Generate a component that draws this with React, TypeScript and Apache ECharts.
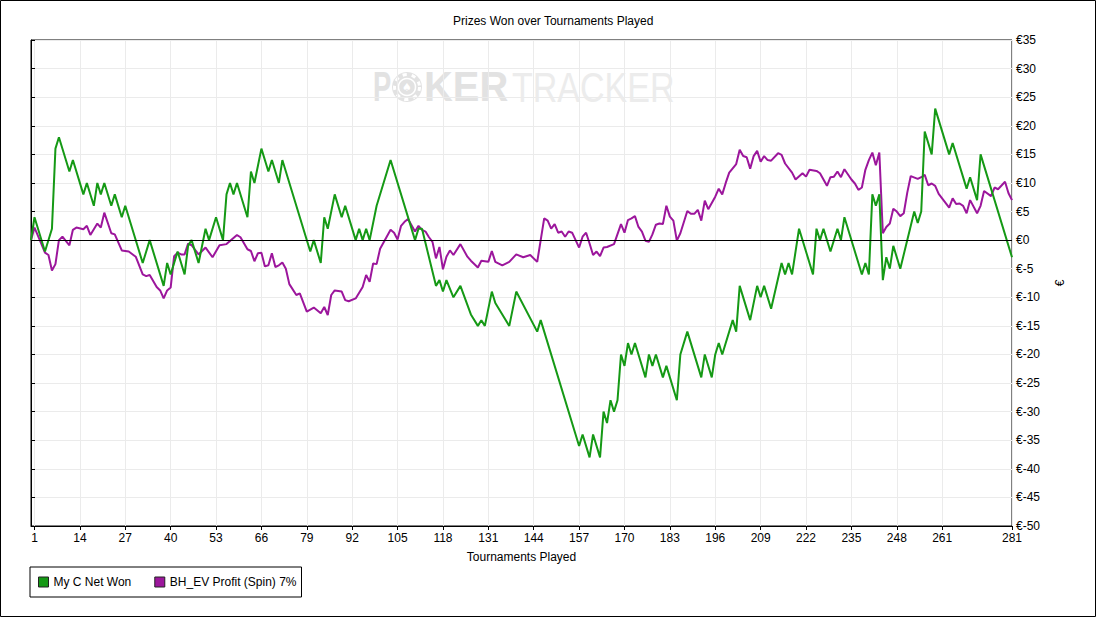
import React, { useEffect, useRef } from "react";
import * as echarts from "echarts";

const TITLE = "Prizes Won over Tournaments Played";
const X_NAME = "Tournaments Played";
const Y_NAME = "€";
const SERIES_GREEN = "My C Net Won";
const SERIES_PURPLE = "BH_EV Profit (Spin) 7%";

const xTickValues = [1, 14, 27, 40, 53, 66, 79, 92, 105, 118, 131, 144, 157, 170, 183, 196, 209, 222, 235, 248, 261, 281];

// [tournament, €]
const netWon: [number, number][] = [
  [0, 0], [1, 4], [4, -2], [6, 2], [7, 16], [8, 18], [11, 12], [12, 14], [15, 8], [16, 10], [18, 6], [19, 10], [20, 8],
  [21, 10], [23, 6], [24, 8], [26, 4], [27, 6], [32, -4], [34, 0], [38, -8], [39, -4], [40, -6], [42, -2], [44, -6],
  [45, -1], [46, 0], [48, -4], [50, 2], [51, 0], [53, 4], [55, 0], [56, 8], [57, 10], [58, 8], [59, 10], [62, 4],
  [63, 12], [64, 10], [66, 16], [68, 12], [69, 14], [71, 10], [72, 14], [80, -2], [81, 0], [83, -4], [84, 4], [85, 2],
  [87, 8], [89, 4], [90, 6], [93, 0], [94, 2], [95, 0], [96, 2], [97, 0], [99, 6], [103, 14], [110, 0], [111, 2],
  [112, 2], [116, -8], [117, -7], [118, -9], [119, -7], [121, -10], [123, -8], [126, -13], [128, -15], [129, -14],
  [130, -15], [132, -9], [133, -11], [137, -15], [139, -9], [145, -16], [146, -14], [157, -36], [158, -34], [160, -38],
  [161, -34], [163, -38], [164, -30], [165, -32], [166, -28], [167, -30], [168, -28], [169, -20], [170, -22], [171, -18],
  [172, -20], [173, -18], [176, -24], [177, -20], [178, -22], [179, -20], [181, -24], [182, -22], [185, -28], [186, -20],
  [188, -16], [192, -24], [193, -20], [195, -24], [196, -20], [197, -18], [198, -20], [201, -14], [202, -16], [203, -8],
  [206, -14], [208, -8], [209, -10], [210, -8], [212, -12], [215, -4], [216, -6], [217, -4], [218, -6], [220, 2],
  [224, -6], [225, 2], [226, 0], [227, 2], [229, -2], [231, 2], [232, 0], [233, 4], [238, -6], [239, -4], [240, -6],
  [241, 8], [242, 6], [243, 8], [244, -7], [245, -3], [246, -5], [247, -1], [249, -5], [253, 5], [254, 3], [255, 5],
  [256, 19], [258, 15], [259, 23], [263, 15], [264, 17], [268, 9], [269, 11], [271, 7], [272, 15], [281, -3],
];

const evProfit: [number, number][] = [
  [0, 0], [1, 2.2], [3, -0.7], [4, -2.2], [5, -2.6], [6, -5.3], [7, -4.2], [8, 0], [9, 0.6], [11, -0.9], [12, 1.8],
  [13, 2.2], [15, 1.9], [16, 2.5], [17, 0.9], [19, 2.9], [20, 2.2], [21, 4.8], [23, 1.2], [24, 1], [26, -1.8], [28, -2],
  [30, -2.9], [32, -6], [33, -6.3], [34, -6.1], [36, -8.2], [37, -8.8], [38, -10.2], [39, -8.8], [40, -8.3], [41, -2.8],
  [42, -2.2], [43, -2.5], [44, -2.5], [45, -0.6], [46, -0.9], [48, -2.5], [50, -1.3], [52, -3], [54, -0.9], [56, -0.7],
  [59, 0.9], [60, 0.5], [62, -1.6], [63, -1.9], [64, -3.7], [65, -2.3], [66, -2.2], [67, -4.6], [68, -4.4], [69, -2.3],
  [70, -4.7], [71, -4.4], [72, -3.9], [73, -5], [74, -7.7], [76, -9.6], [77, -9.3], [79, -12.5], [81, -11.8], [83, -12.8],
  [84, -11.7], [85, -13.1], [86, -9.6], [87, -8.8], [89, -9], [90, -10.5], [91, -10.7], [93, -10.2], [95, -8.2], [96, -6.1],
  [97, -7.3], [98, -4.1], [99, -4.2], [100, -1.5], [103, 1.8], [104, 1.3], [105, 0.1], [106, 2.5], [107, 3.2], [108, 3.7],
  [110, 1.5], [111, 2.5], [112, 1.8], [113, 1.5], [114, 0.5], [115, -0.3], [116, -3.2], [117, -1.2], [118, -5.1],
  [119, -2.9], [120, -1.8], [121, -2.6], [123, -0.7], [125, -2.9], [126, -3.6], [128, -4.8], [129, -3.6], [131, -3.8],
  [132, -1.9], [133, -3.8], [135, -4.4], [137, -3.8], [139, -2.5], [141, -3], [143, -2.6], [145, -3.8], [147, 3.8],
  [148, 3.4], [149, 2], [150, 2.8], [151, 1.3], [152, 1.5], [153, 0.6], [154, 1.5], [155, 1.3], [157, -1.3], [158, 0.6],
  [159, 1.3], [160, -0.6], [161, -2.6], [162, -2], [163, -2.8], [164, -1.3], [165, -1.2], [167, -0.7], [169, 2.8],
  [170, 1.3], [171, 3.5], [172, 3.8], [173, 4.2], [174, 2.3], [175, 1.5], [176, -0.1], [177, -0.3], [178, 1], [179, 2.7],
  [180, 2.9], [181, 2.8], [182, 6], [183, 4.1], [184, 3.4], [185, -0.1], [186, 1.2], [188, 5.1], [189, 4.6], [190, 4.6],
  [191, 5.3], [192, 3.4], [193, 6.9], [194, 5.4], [196, 7.6], [197, 9], [198, 8], [199, 10], [200, 11.8], [202, 13.3],
  [203, 15.8], [204, 14.7], [205, 14.5], [206, 12.5], [207, 14.7], [208, 15.6], [209, 13.7], [210, 14.7], [211, 14],
  [212, 13.9], [214, 15.2], [215, 14.9], [216, 13.4], [218, 11.8], [219, 10.6], [221, 11.7], [222, 11.1], [223, 12.3],
  [225, 12.1], [226, 11.7], [228, 9.5], [229, 11], [230, 11.1], [231, 12], [232, 11], [233, 12.4], [235, 10.6], [236, 9.9],
  [237, 8.8], [238, 9.2], [239, 12.3], [240, 14], [241, 15.3], [242, 13.1], [243, 15.3], [244, 1.2], [245, 2.3], [246, 2.9],
  [247, 5.5], [248, 5], [249, 4.2], [250, 4.7], [251, 8.3], [252, 11.2], [254, 10.7], [255, 11], [256, 11.4], [257, 9.6],
  [258, 9.9], [259, 9.5], [260, 8.1], [263, 5.7], [264, 7.3], [265, 6.3], [266, 6.4], [267, 6], [268, 4.7], [269, 7],
  [271, 4.7], [272, 6], [273, 8.6], [275, 7.7], [276, 9.2], [277, 8.9], [279, 10.2], [280, 8.2], [281, 7],
];

const GREEN = "#159915";
const PURPLE = "#9c169c";
const FONT = '"Liberation Sans", Arial, sans-serif';

export default function App() {
  const ref = useRef<HTMLDivElement>(null);

  useEffect(() => {
    const el = ref.current;
    if (!el) return;
    const chart = echarts.init(el, null, { renderer: "svg" });
    chart.setOption({
      animation: false,
      backgroundColor: "#ffffff",
      textStyle: { fontFamily: FONT },
      title: {
        text: TITLE,
        left: 453,
        top: 15,
        padding: 0,
        textStyle: { fontSize: 12, fontWeight: "normal", color: "#000", fontFamily: FONT },
      },
      legend: {
        left: 30,
        top: 567,
        data: [SERIES_GREEN, SERIES_PURPLE],
        icon: "rect",
        itemWidth: 10,
        itemHeight: 10,
        itemGap: 23,
        padding: [9, 5, 9, 8],
        borderColor: "#000",
        borderWidth: 1,
        borderRadius: 0,
        itemStyle: { borderColor: "#222", borderWidth: 1 },
        textStyle: { fontSize: 12, color: "#000", fontFamily: FONT },
      },
      grid: {
        left: 31,
        right: 84,
        top: 40,
        bottom: 91,
        show: true,
        borderColor: "#000",
        borderWidth: 1,
        backgroundColor: "transparent",
      },
      xAxis: {
        type: "value",
        min: 0,
        max: 281,
        name: X_NAME,
        nameLocation: "middle",
        nameGap: 25,
        nameTextStyle: { fontSize: 12, color: "#000", fontFamily: FONT },
        axisLine: { show: true, onZero: false, lineStyle: { color: "#000", width: 1 } },
        axisTick: { show: true, customValues: xTickValues, length: 4, lineStyle: { color: "#000" } },
        axisLabel: { customValues: xTickValues, color: "#000", fontSize: 12, margin: 6, fontFamily: FONT },
        splitLine: { show: true, lineStyle: { color: "#ebebeb", width: 1 } },
      },
      yAxis: {
        type: "value",
        position: "right",
        min: -50,
        max: 35,
        interval: 5,
        name: Y_NAME,
        nameLocation: "middle",
        nameGap: 42,
        nameRotate: 90,
        nameTextStyle: { fontSize: 12, color: "#000", fontFamily: FONT },
        axisLine: { show: true, lineStyle: { color: "#000", width: 1 } },
        axisTick: { show: true, length: 4, lineStyle: { color: "#000" } },
        axisLabel: {
          color: "#000",
          fontSize: 12,
          margin: 4,
          fontFamily: FONT,
          formatter: (v: number) => "€" + v,
        },
        splitLine: { show: true, lineStyle: { color: "#ebebeb", width: 1 } },
      },
      series: [
        {
          name: SERIES_PURPLE,
          type: "line",
          data: evProfit,
          showSymbol: false,
          symbol: "none",
          color: PURPLE,
          lineStyle: { color: PURPLE, width: 2 },
          markLine: {
            silent: true,
            symbol: "none",
            label: { show: false },
            lineStyle: { color: "#000", width: 1, type: "solid" },
            data: [{ yAxis: 0 }],
          },
        },
        {
          name: SERIES_GREEN,
          type: "line",
          data: netWon,
          showSymbol: false,
          symbol: "none",
          color: GREEN,
          lineStyle: { color: GREEN, width: 2 },
        },
      ],
      graphic: [
        {
          type: "rect",
          silent: true,
          z: 100,
          shape: { x: 0.5, y: 0.5, width: 1095, height: 616 },
          style: { fill: "none", stroke: "#000", lineWidth: 1 },
        },
        {
          type: "text",
          silent: true,
          x: 373,
          y: 87,
          scaleX: 0.65,
          style: { text: "P", fontSize: 42, fontWeight: "bold", fontFamily: FONT, fill: "#e2e2e2", verticalAlign: "middle", align: "left" },
        },
        {
          type: "circle",
          silent: true,
          shape: { cx: 407, cy: 87, r: 15 },
          style: { fill: "#e2e2e2" },
        },
        {
          type: "circle",
          silent: true,
          shape: { cx: 407, cy: 87, r: 12.5 },
          style: { fill: "none", stroke: "#ffffff", lineWidth: 3, lineDash: [4, 5] },
        },
        {
          type: "circle",
          silent: true,
          shape: { cx: 407, cy: 87, r: 8.5 },
          style: { fill: "#e2e2e2", stroke: "#ffffff", lineWidth: 1.5 },
        },
        {
          type: "text",
          silent: true,
          x: 407,
          y: 87,
          style: { text: "♠", fontSize: 11, fontFamily: '"DejaVu Sans", sans-serif', fill: "#ffffff", verticalAlign: "middle", align: "center" },
        },
        {
          type: "text",
          silent: true,
          x: 424,
          y: 87,
          scaleX: 0.95,
          style: { text: "KER", fontSize: 42, fontWeight: "bold", fontFamily: FONT, fill: "#e2e2e2", verticalAlign: "middle", align: "left" },
        },
        {
          type: "text",
          silent: true,
          x: 512,
          y: 87,
          scaleX: 0.81,
          style: { text: "TRACKER", fontSize: 42, fontWeight: "normal", fontFamily: FONT, fill: "#ececec", verticalAlign: "middle", align: "left" },
        },
      ],
    });
    return () => {
      chart.dispose();
    };
  }, []);

  return (
    <div
      ref={ref}
      style={{ position: "absolute", left: 0, top: 0, width: 1096, height: 617, background: "#fff" }}
    />
  );
}
